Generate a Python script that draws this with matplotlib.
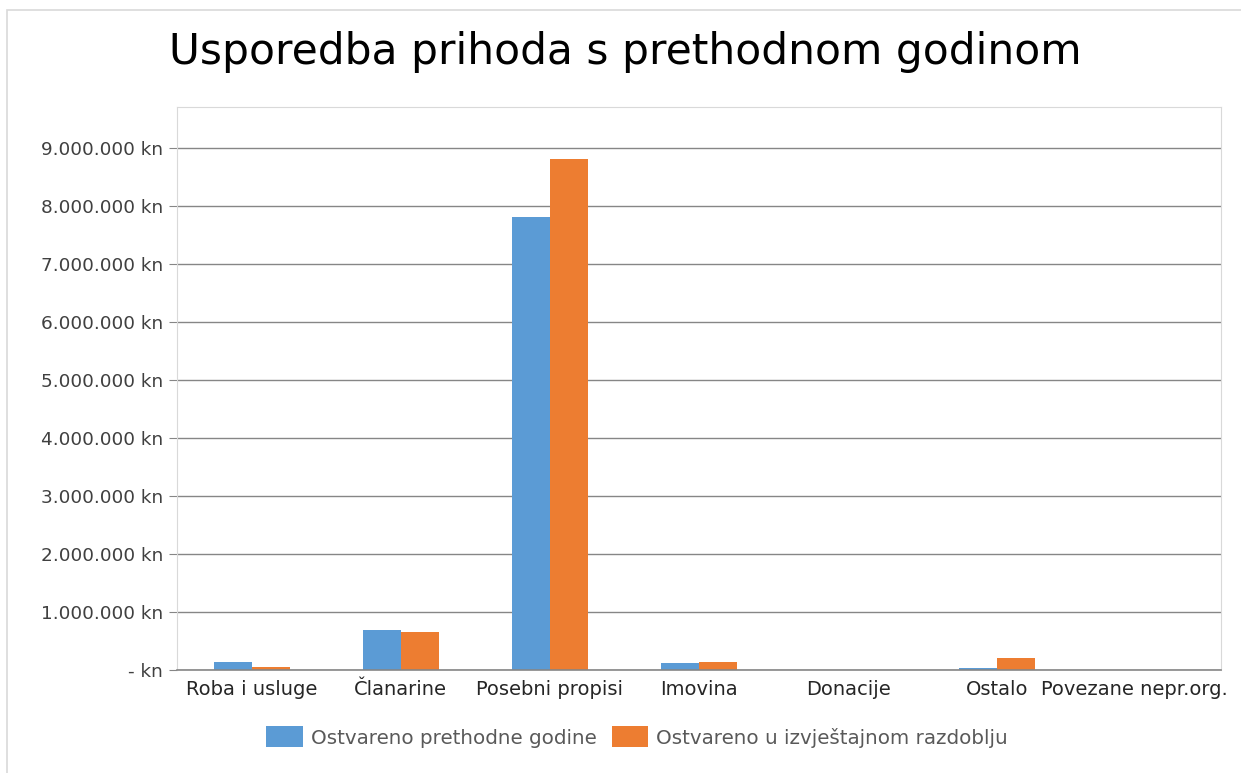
import matplotlib
matplotlib.use("Agg")
import matplotlib.pyplot as plt
import matplotlib.transforms as mtransforms
import numpy as np
from matplotlib.patches import Rectangle

categories = ["Roba i usluge", "Članarine", "Posebni propisi", "Imovina",
              "Donacije", "Ostalo", "Povezane nepr.org."]
prev_year = [140000, 690000, 7810000, 115000, 0, 40000, 0]
this_period = [45000, 655000, 8810000, 140000, 0, 210000, 0]
series_names = ["Ostvareno prethodne godine", "Ostvareno u izvještajnom razdoblju"]
ytick_values = [0, 1e6, 2e6, 3e6, 4e6, 5e6, 6e6, 7e6, 8e6, 9e6]
ytick_labels = ["- kn", "1.000.000 kn", "2.000.000 kn", "3.000.000 kn",
                "4.000.000 kn", "5.000.000 kn", "6.000.000 kn", "7.000.000 kn",
                "8.000.000 kn", "9.000.000 kn"]

plt.rcParams["font.family"] = ["DejaVu Sans"]

fig = plt.figure(figsize=(12.41, 7.73), dpi=100)
fig.patch.set_facecolor("white")
# outer chart border
fig.add_artist(Rectangle((7 / 1241, -0.01), 1.02, 1 - 10 / 773 + 0.01,
                         transform=fig.transFigure, fill=False,
                         edgecolor="#d9d9d9", linewidth=1.2))

ax = fig.add_axes([177 / 1241, 1 - 670 / 773, (1221 - 177) / 1241, (670 - 107) / 773])

x = np.arange(len(categories))
w = 0.255
ax.bar(x - w / 2, prev_year, w, color="#5B9BD5", label=series_names[0])
ax.bar(x + w / 2, this_period, w, color="#ED7D31", label=series_names[1])

ax.set_xlim(-0.5, len(categories) - 0.5)
ax.set_ylim(0, 9.707e6)
ax.set_yticks(ytick_values)
ax.set_yticklabels(ytick_labels, fontsize=13.3, color="#404040")
ax.set_xticks(x)
ax.set_xticklabels(categories, fontsize=14, color="#262626")
ax.tick_params(axis="x", length=0, pad=7)
ax.tick_params(axis="y", length=6, color="#868686", pad=4)

# last label is pushed left so it stays inside the chart, like Excel does
last = ax.get_xticklabels()[-1]
last.set_transform(last.get_transform() +
                   mtransforms.ScaledTranslation(-0.12, 0, fig.dpi_scale_trans))

ax.grid(axis="y", color="#868686", linewidth=1)
ax.set_axisbelow(True)
for s in ["top", "right", "left"]:
    ax.spines[s].set_color("#d9d9d9")
ax.spines["bottom"].set_color("#868686")
ax.spines["bottom"].set_linewidth(1.2)

fig.text(625 / 1241, 1 - 52 / 773, "Usporedba prihoda s prethodnom godinom",
         ha="center", va="center", fontsize=30.5, color="#000000")

fig.legend(loc="center", bbox_to_anchor=(637 / 1241, 1 - 737 / 773), ncol=2,
           frameon=False, fontsize=14.3, handlelength=1.85, handleheight=1.25,
           columnspacing=0.75, handletextpad=0.4, labelcolor="#595959")

fig.savefig("out.png", dpi=100)
